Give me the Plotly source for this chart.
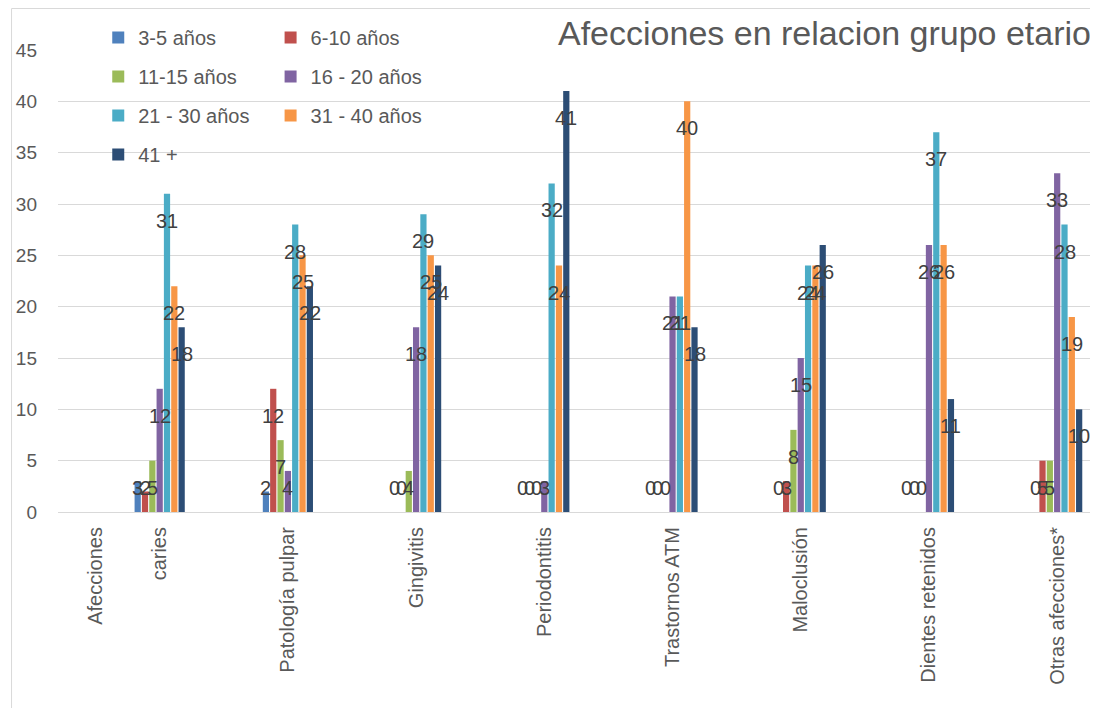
import plotly.graph_objects as go

categories = ["caries", "Patología pulpar", "Gingivitis", "Periodontitis",
              "Trastornos ATM", "Maloclusión", "Dientes retenidos", "Otras afecciones*"]
axis_header = "Afecciones"
series_names = ["3-5 años", "6-10 años", "11-15 años", "16 - 20 años",
                "21 - 30 años", "31 - 40 años", "41 +"]
values = {
    "3-5 años":     [3, 2, 0, 0, 0, 0, 0, 0],
    "6-10 años":    [2, 12, 0, 0, 0, 3, 0, 5],
    "11-15 años":   [5, 7, 4, 0, 0, 8, 0, 5],
    "16 - 20 años": [12, 4, 18, 3, 21, 15, 26, 33],
    "21 - 30 años": [31, 28, 29, 32, 21, 24, 37, 28],
    "31 - 40 años": [22, 25, 25, 24, 40, 24, 26, 19],
    "41 +":         [18, 22, 24, 41, 18, 26, 11, 10],
}
colors = ["#4F81BD", "#C0504D", "#9BBB59", "#8064A2", "#4BACC6", "#F79646", "#2C4D75"]
y_ticks = [0, 5, 10, 15, 20, 25, 30, 35, 40, 45]

FONT = "Liberation Sans, Arial, sans-serif"
BARGAP = 0.6
n_series = len(series_names)
slot = (1 - BARGAP) / n_series
xpos = list(range(1, len(categories) + 1))

col1 = {"3-5 años", "11-15 años", "21 - 30 años", "41 +"}

fig = go.Figure()
for j, name in enumerate(series_names):
    fig.add_trace(go.Bar(
        x=xpos, y=values[name], name=name,
        marker=dict(color=colors[j], line=dict(width=0)),
        legend="legend" if name in col1 else "legend2",
        legendgroup=name,
        hoverinfo="skip",
    ))

annotations = []
for j, name in enumerate(series_names):
    for i, v in enumerate(values[name]):
        annotations.append(dict(
            x=xpos[i] + (j - (n_series - 1) / 2) * slot,
            y=max(v, 5), yshift=-27,
            xref="x", yref="y", text=str(v), showarrow=False,
            font=dict(family=FONT, size=20, color="#404040"),
            xanchor="center", yanchor="middle",
        ))

annotations.append(dict(
    text="Afecciones en relacion grupo etario", x=1.003, y=1.0368,
    xref="paper", yref="paper", xanchor="right", yanchor="middle",
    showarrow=False, font=dict(family=FONT, size=34, color="#595959"),
))

legend_font = dict(family=FONT, size=20, color="#595959")
fig.update_layout(
    width=1090, height=700,
    margin=dict(l=47, r=8, t=42, b=196),
    paper_bgcolor="white", plot_bgcolor="white",
    barmode="group", bargap=BARGAP, bargroupgap=0.15,
    font=dict(family=FONT, color="#595959"),
    annotations=annotations,
    legend=dict(x=0.039, y=1.069, xanchor="left", yanchor="top",
                orientation="v", tracegroupgap=10, bgcolor="rgba(0,0,0,0)",
                font=legend_font, traceorder="grouped"),
    legend2=dict(x=0.206, y=1.069, xanchor="left", yanchor="top",
                 orientation="v", tracegroupgap=10, bgcolor="rgba(0,0,0,0)",
                 font=legend_font, traceorder="grouped"),
    shapes=[dict(type="rect", xref="paper", yref="paper",
                 x0=-0.045, x1=1.02, y0=-0.45, y1=1.0898,
                 line=dict(color="#D9D9D9", width=1), fillcolor="rgba(0,0,0,0)")],
)
fig.update_xaxes(
    range=[0.207, 8.256],
    tickvals=[0.5] + xpos, ticktext=[axis_header] + categories,
    tickangle=-90, tickfont=dict(family=FONT, size=20, color="#595959"),
    showgrid=False, zeroline=False, showline=False, ticks="",
    ticklabelstandoff=10,
)
fig.update_yaxes(
    range=[0, 45], tickvals=y_ticks,
    tickfont=dict(family=FONT, size=19, color="#595959"),
    showgrid=True, gridcolor="#D9D9D9", gridwidth=1,
    zeroline=True, zerolinecolor="#D9D9D9", zerolinewidth=1,
    showline=False, ticks="", ticklabelstandoff=20,
)

fig.write_html("out.html")
